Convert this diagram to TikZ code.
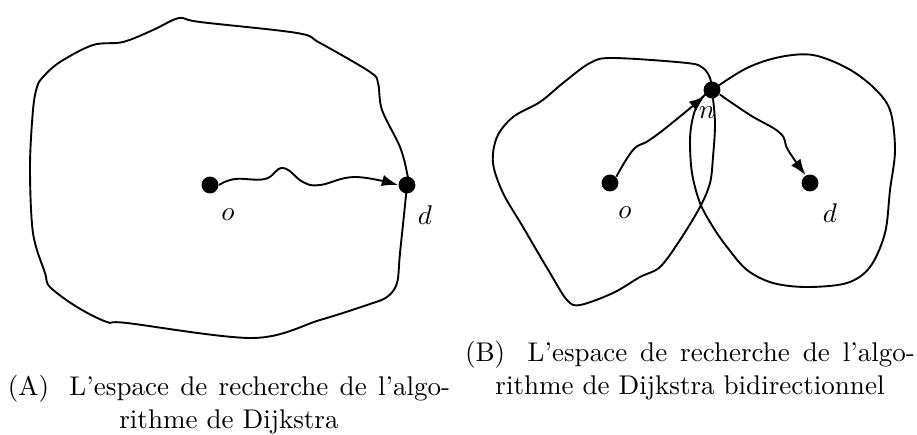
\documentclass[tikz,border=0pt]{standalone}
\usepackage{amsmath}
\usepackage{tikz}
\usetikzlibrary{arrows.meta}

\tikzset{
  vertex/.style={circle,fill=black,inner sep=0pt,minimum size=0.22cm},
  zone/.style={line width=0.7pt,smooth cycle,tension=0.55},
  route/.style={line width=0.7pt,-{Latex[length=2.1mm,width=1.5mm]}},
  legend/.style={inner sep=0pt,align=center,anchor=north}
}
\newcommand{\gap}{\hskip 3pt plus 1fil\relax}
\newcommand{\legendline}[2]{\hbox to #1{#2\hskip 6pt plus 1.3fil\relax L'espace\gap de\gap recherche\gap de\gap l'algo-}}

\begin{document}
\begin{tikzpicture}[x=0.013cm,y=-0.013cm]
  \useasboundingbox (0,0) rectangle (917,435);

  % (A) Dijkstra
  \node[vertex] (oA) at (210,185) {};
  \node[vertex] (dA) at (407,185) {};
  \node (lblo) at (228,215) {$o$};
  \node (lbld) at (425,215) {$d$};
  \draw[zone] plot coordinates {(183,18) (200,22) (297,33) (320,43) (370,72) (378,83)
    (382,110) (400,147) (407,173) (dA) (400,253) (397,283) (387,297) (367,305)
    (320,320) (253,338) (127,323) (107,322) (77,307) (50,287) (45,273) (33,233)
    (30,167) (33,110) (37,87) (43,77) (60,62) (93,45) (123,42) (153,30) (173,20)};
  \draw[route] plot[smooth,tension=0.7] coordinates {(oA.east) (235,179)
    (265,179) (283,168) (303,182) (320,185) (355,177) (dA.west)};

  % (B) bidirectionnel
  \node[vertex] (oB) at (610,183) {};
  \node[vertex] (dB) at (810,183) {};
  \node[vertex] (nB) at (712,90) {};
  \node (lbloB) at (625,213) {$o$};
  \node (lbldB) at (830,213) {$d$};
  \node (lblnB) at (707,113) {$n$};
  \draw[zone] plot coordinates {(nB) (710,78) (703,68) (687,63) (613,58) (590,63)
    (563,83) (540,102) (513,117) (497,137) (493,163) (503,193) (523,227) (550,273)
    (567,300) (580,305) (613,293) (640,277) (660,267) (680,240) (700,207) (710,183)
    (713,157) (715,123)};
  \draw[zone] plot coordinates {(nB) (747,68) (780,57) (813,55) (847,68) (873,87)
    (890,110) (895,150) (890,190) (885,233) (870,267) (847,283) (807,287) (773,283)
    (747,270) (727,247) (713,227) (700,203) (692,173) (690,140) (693,117) (700,100)};
  \draw[route] plot[smooth,tension=0.7] coordinates {(oB.45) (633,150)
    (648,141) (667,127) (nB.220)};
  \draw[route] plot[smooth,tension=0.7] coordinates {(nB.-30) (750,115)
    (780,133) (788,150) (dB.120)};

  % legendes
  \node[legend,text width=5.75cm] (capA) at (229,375)
    {\legendline{5.75cm}{(A)}\\ rithme de Dijkstra};
  \node[legend,text width=5.85cm] (capB) at (690,341)
    {\legendline{5.85cm}{(B)}\\ rithme de Dijkstra bidirectionnel};
\end{tikzpicture}
\end{document}
